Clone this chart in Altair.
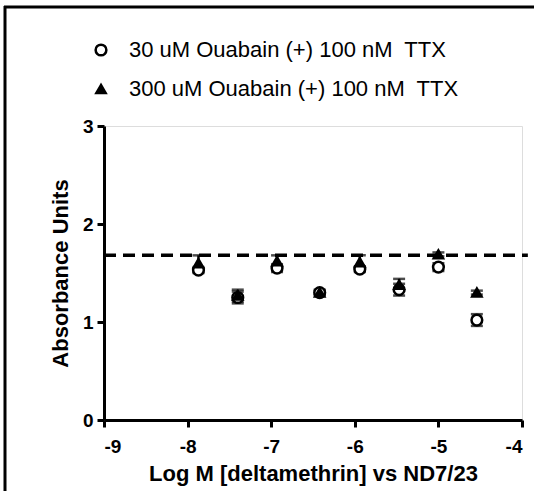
import altair as alt
import pandas as pd

# ---- data ----
x_vals = [-7.87, -7.40, -6.93, -6.42, -5.94, -5.47, -5.00, -4.54]
y_30 = [1.53, 1.25, 1.55, 1.30, 1.54, 1.33, 1.56, 1.02]
e_30 = [0.03, 0.06, 0.04, 0.03, 0.03, 0.06, 0.04, 0.06]
y_300 = [1.60, 1.27, 1.62, 1.30, 1.61, 1.38, 1.69, 1.30]
e_300 = [0.08, 0.06, 0.06, 0.02, 0.07, 0.06, 0.02, 0.02]
series_names = ["30 uM Ouabain (+) 100 nM\u00a0 TTX", "300 uM Ouabain (+) 100 nM\u00a0 TTX"]
baseline_value = [1.68]
x_ticks = [-9, -8, -7, -6, -5, -4]
y_ticks = [0, 1, 2, 3]

rows = []
for name, ys, es in [(series_names[0], y_30, e_30), (series_names[1], y_300, e_300)]:
    for xv, yv, ev in zip(x_vals, ys, es):
        rows.append({"x": xv, "y": yv, "lo": yv - ev, "hi": yv + ev, "series": name})
df = pd.DataFrame(rows)
df["order"] = range(len(df))

FONT = "Liberation Sans"

xscale = alt.Scale(domain=[-9, -4], nice=False, zero=False)
yscale = alt.Scale(domain=[0, 3], nice=False, zero=False)

base = alt.Chart(df)

err_rule = base.mark_rule(color="black", strokeWidth=2.5).encode(
    x=alt.X("x:Q", scale=xscale),
    y=alt.Y("lo:Q", scale=yscale),
    y2="hi:Q",
)
err_lo = base.mark_tick(color="black", orient="horizontal", size=12, thickness=2.5).encode(
    x=alt.X("x:Q", scale=xscale), y=alt.Y("lo:Q", scale=yscale)
)
err_hi = base.mark_tick(color="black", orient="horizontal", size=12, thickness=2.5).encode(
    x=alt.X("x:Q", scale=xscale), y=alt.Y("hi:Q", scale=yscale)
)

points = base.mark_point(filled=True, stroke="black", strokeWidth=2.5, opacity=1).encode(
    x=alt.X(
        "x:Q",
        scale=xscale,
        axis=alt.Axis(
            values=x_ticks,
            title="Log M [deltamethrin] vs ND7/23",
            labelExpr="datum.value + ''",
        ),
    ),
    y=alt.Y(
        "y:Q",
        scale=yscale,
        axis=alt.Axis(values=y_ticks, title="Absorbance Units", labelExpr="datum.value + ''"),
    ),
    shape=alt.Shape(
        "series:N",
        scale=alt.Scale(domain=series_names, range=["circle", "triangle-up"]),
        legend=alt.Legend(
            title=None,
            orient="none",
            legendX=-14,
            legendY=-87,
            labelFontSize=22,
            labelFont=FONT,
            labelColor="black",
            labelLimit=0,
            symbolStrokeColor="black",
            symbolStrokeWidth=2.5,
            rowPadding=17,
            labelOffset=17,
            padding=0,
        ),
    ),
    fill=alt.Fill(
        "series:N",
        scale=alt.Scale(domain=series_names, range=["white", "black"]),
        legend=alt.Legend(title=None),
    ),
    size=alt.Size(
        "series:N",
        scale=alt.Scale(domain=series_names, range=[115, 85]),
        legend=alt.Legend(title=None),
    ),
    order=alt.Order("order:Q"),
)

bl = pd.DataFrame({"y": baseline_value, "x0": [-9], "x1": [-3.93]})
dashed = alt.Chart(bl).mark_rule(color="black", strokeWidth=3.5, strokeDash=[12, 7]).encode(
    x=alt.X("x0:Q", scale=xscale), x2="x1:Q", y=alt.Y("y:Q", scale=yscale)
)

frame_df = pd.DataFrame({"k": [0]})
frame_left = alt.Chart(frame_df).mark_rule(color="black", strokeWidth=3).encode(
    x=alt.value(-99), y=alt.value(-120), y2=alt.value(370)
)
frame_top = alt.Chart(frame_df).mark_rule(color="black", strokeWidth=3).encode(
    x=alt.value(-100), x2=alt.value(440), y=alt.value(-119)
)

chart = (
    alt.layer(dashed, err_rule, err_lo, err_hi, points, frame_left, frame_top)
    .properties(
        width=418,
        height=294,
        autosize=alt.AutoSizeParams(type="none"),
        padding={"left": 104, "top": 126, "right": 12, "bottom": 71},
    )
    .configure_view(stroke=None)
    .configure(background="white")
    .configure_axis(
        grid=False,
        domainColor="black",
        domainWidth=3,
        tickColor="black",
        tickWidth=3,
        tickSize=7,
        labelFont=FONT,
        labelFontWeight="bold",
        labelFontSize=19,
        labelColor="black",
        titleFont=FONT,
        titleFontWeight="bold",
        titleFontSize=22,
        titleColor="black",
    )
    .configure_axisX(labelPadding=10, titlePadding=7)
    .configure_axisY(labelPadding=4, titlePadding=10)
)

chart.save("out.html", embed_options={"renderer": "svg", "actions": False})
